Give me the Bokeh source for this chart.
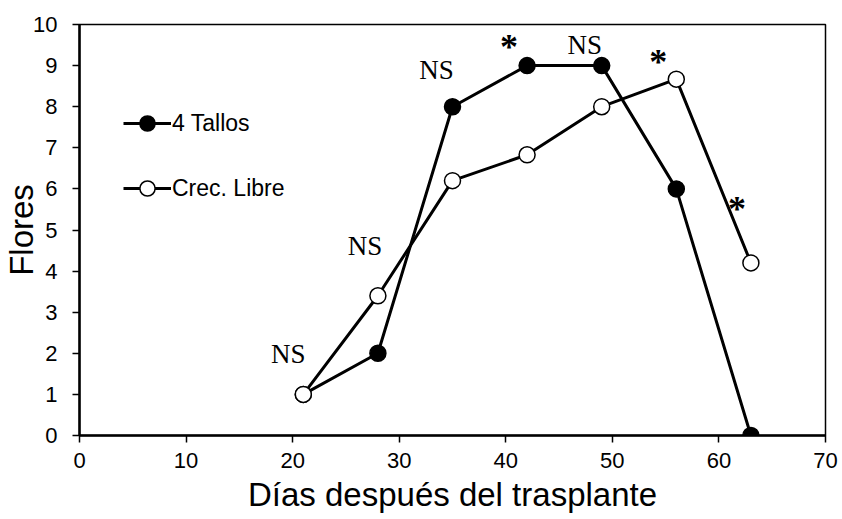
from bokeh.plotting import figure
from bokeh.models import ColumnDataSource, Range1d, Legend, LegendItem, FixedTicker, Label
from bokeh.embed import file_html
from bokeh.resources import INLINE

dias = [21, 28, 35, 42, 49, 56, 63]
tallos4 = [1, 2, 8, 9, 9, 6, 0]
crec_libre = [1, 3.4, 6.2, 6.83, 8, 8.67, 4.2]

# significance labels (NS: baseline position, *: centre position)
ns_x = [19.6, 26.8, 33.5, 47.4]
ns_y = [1.75, 4.36, 8.64, 9.25]
ast_x = [40.3, 54.3, 61.7]
ast_y = [9.55, 9.18, 5.62]

p = figure(width=840, height=517, output_backend="svg", toolbar_location=None,
           x_range=Range1d(0, 70), y_range=Range1d(0, 10))
p.min_border_left = 79
p.min_border_right = 15
p.min_border_top = 24
p.min_border_bottom = 82
p.background_fill_color = "white"
p.border_fill_color = "white"
p.grid.visible = False
p.outline_line_color = "black"
p.outline_line_width = 1.5

for ax in (p.xaxis[0], p.yaxis[0]):
    ax.axis_line_width = 2.5
    ax.axis_line_color = "black"
    ax.major_tick_line_width = 1.5
    ax.major_tick_line_color = "black"
    ax.major_tick_out = 7
    ax.major_tick_in = 0
    ax.minor_tick_line_color = None
    ax.major_label_text_font = "Liberation Sans"
    ax.major_label_text_font_size = "22px"
    ax.major_label_text_color = "black"
    ax.axis_label_text_font = "Liberation Sans"
    ax.axis_label_text_font_size = "33px"
    ax.axis_label_text_font_style = "normal"
    ax.axis_label_text_color = "black"

p.xaxis.ticker = FixedTicker(ticks=list(range(0, 71, 10)))
p.yaxis.ticker = FixedTicker(ticks=list(range(0, 11)))
p.xaxis.axis_label = "Días después del trasplante"
p.yaxis.axis_label = "Flores"
p.xaxis.major_label_standoff = 10
p.yaxis.major_label_standoff = 15
p.xaxis.axis_label_standoff = 5
p.yaxis.axis_label_standoff = -10

src = ColumnDataSource(dict(x=dias, a=tallos4, b=crec_libre))
l1 = p.line("x", "a", source=src, line_color="black", line_width=3)
c1 = p.scatter("x", "a", source=src, size=16, fill_color="black", line_color="black", line_width=1.5)
l2 = p.line("x", "b", source=src, line_color="black", line_width=3)
c2 = p.scatter("x", "b", source=src, size=16, fill_color="white", line_color="black", line_width=1.5)

legend = Legend(items=[LegendItem(label="4 Tallos", renderers=[l1, c1]),
                       LegendItem(label="Crec. Libre", renderers=[l2, c2])],
                location=(44, 228))
legend.border_line_color = None
legend.background_fill_alpha = 0
legend.glyph_width = 48
legend.glyph_height = 38
legend.label_height = 38
legend.label_text_font = "Liberation Sans"
legend.label_text_font_size = "23px"
legend.label_text_color = "black"
legend.label_standoff = 1
legend.spacing = 27
legend.padding = 0
legend.margin = 0
p.add_layout(legend, "center")

for x, y in zip(ns_x, ns_y):
    p.add_layout(Label(x=x, y=y, y_offset=10, text="NS", text_font="Liberation Serif",
                       text_font_size="27px", text_align="center",
                       text_baseline="alphabetic", text_color="black"))
for x, y in zip(ast_x, ast_y):
    p.add_layout(Label(x=x, y=y, y_offset=-4, text="*", text_font="Liberation Serif",
                       text_font_size="36px", text_font_style="bold",
                       text_align="center", text_baseline="alphabetic", text_color="black"))

open("out.html", "w").write(file_html(p, INLINE))
